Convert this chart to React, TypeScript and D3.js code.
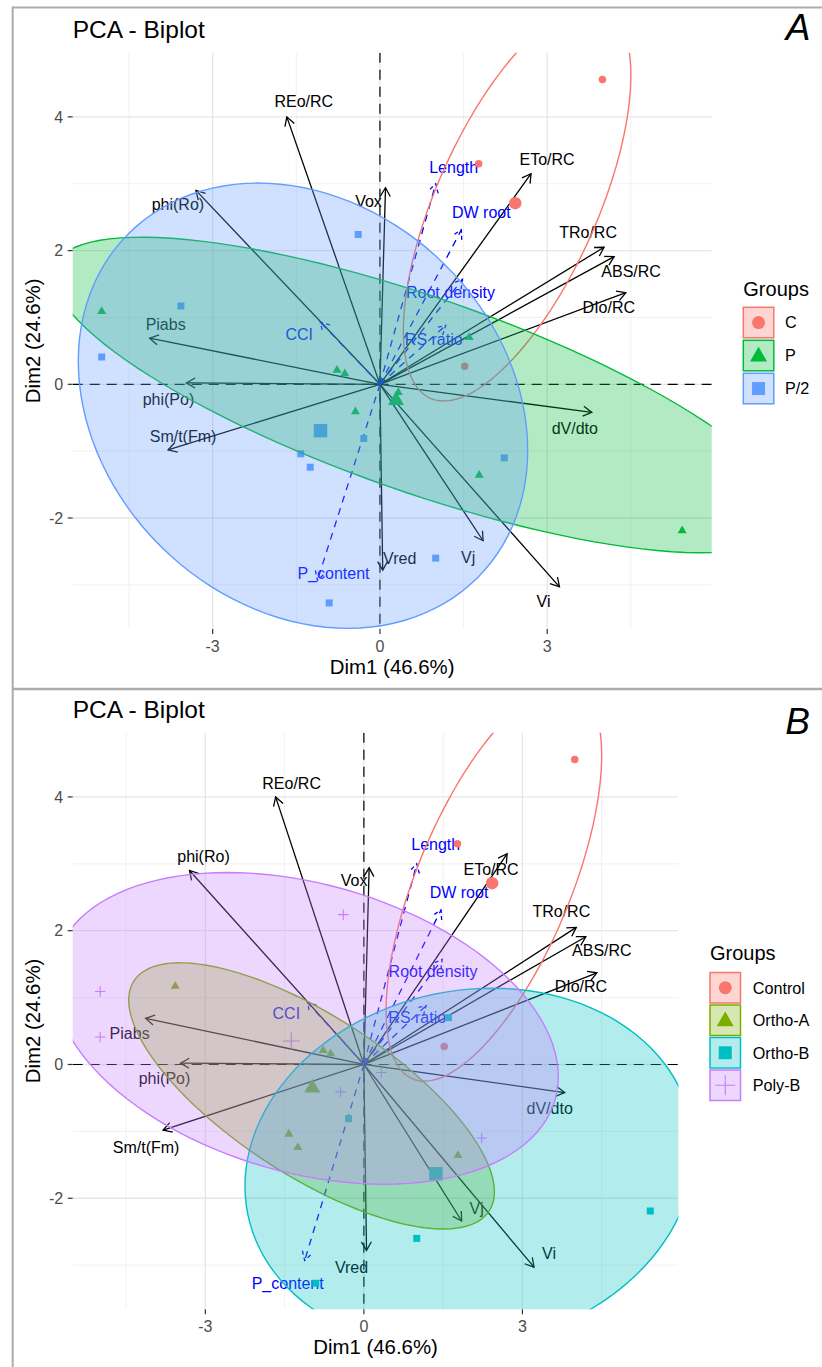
import React from "react";
import * as d3 from "d3";

// active variables (arrow tips, Dim1 / Dim2)
const varNames = ["REo/RC", "phi(Ro)", "Vox", "Piabs", "phi(Po)", "Sm/t(Fm)", "Vred", "Vj", "Vi", "dV/dto", "ETo/RC", "TRo/RC", "ABS/RC", "DIo/RC"];
const varDim1 = [-1.67, -3.3, 0.1, -4.13, -3.47, -3.8, 0.05, 1.85, 3.22, 3.8, 2.71, 4.02, 4.2, 4.41];
const varDim2 = [4.0, 2.9, 2.94, 0.69, 0.02, -0.98, -2.78, -2.34, -3.03, -0.42, 3.15, 2.05, 1.91, 1.37];

// supplementary variables (blue dashed)
const supNames = ["Length", "DW root", "Root density", "RS ratio", "CCI", "P_content"];
const supDim1 = [1.0, 1.46, 1.48, 1.18, -1.07, -1.12];
const supDim2 = [3.0, 2.31, 1.57, 0.88, 0.93, -2.93];

// individuals
const indDim1 = [3.99, 1.77, 1.52, -4.99, -0.77, -0.63, 0.33, -0.44, 1.78, 5.42, 1.6, -0.39, -3.57, -4.99, -0.29, -1.42, -1.25, -0.91, 2.23, 1.0];
const indDim2 = [4.56, 3.3, 0.27, 1.09, 0.21, 0.16, -0.12, -0.41, -1.36, -2.19, 0.7, 2.24, 1.17, 0.41, -0.81, -1.04, -1.24, -3.27, -1.1, -2.6];
const indGroupA = ["C", "C", "C", "P", "P", "P", "P", "P", "P", "P", "P", "P/2", "P/2", "P/2", "P/2", "P/2", "P/2", "P/2", "P/2", "P/2"];
const indGroupB = ["Control", "Control", "Control", "Poly-B", "Ortho-A", "Ortho-A", "Poly-B", "Poly-B", "Ortho-A", "Ortho-B", "Ortho-B", "Poly-B", "Ortho-A", "Poly-B", "Ortho-B", "Ortho-A", "Ortho-A", "Ortho-B", "Poly-B", "Ortho-B"];

const groupsA = ["C", "P", "P/2"];
const colorsA = ["#F8766D", "#00BA38", "#619CFF"];
const shapesA = ["circle", "triangle", "square"];
const groupsB = ["Control", "Ortho-A", "Ortho-B", "Poly-B"];
const colorsB = ["#F8766D", "#7CAE00", "#00BFC4", "#C77CFF"];
const shapesB = ["circle", "triangle", "square", "plus"];

// ellipses: centre, half extents, correlation
const ellCxA = [2.46, 0.745, -1.38];
const ellCyA = [2.71, -0.16, -0.32];
const ellHxA = [2.04, 6.61, 4.03];
const ellHyA = [2.96, 2.36, 3.33];
const ellRhoA = [0.645, -0.76, -0.2];
const ellCxB = [2.46, -0.99, 2.0, -1.1];
const ellCyB = [2.71, -0.47, -1.55, 0.54];
const ellHxB = [2.04, 3.46, 4.25, 4.78];
const ellHyB = [2.96, 1.99, 2.69, 2.33];
const ellRhoB = [0.645, -0.72, 0.1, -0.31];

const xBreaks = [-3, 0, 3];
const xMinor = [-4.5, -1.5, 1.5, 4.5];
const yBreaks = [-2, 0, 2, 4];
const yMinor = [-3, -1, 1, 3];

// label nudges (px) as placed by repel in each panel
const varOffA = [[17, -15], [-18, 14], [-17, 14], [16, -14], [-18, 16], [15, -13], [17, -12], [-15, 17], [-16, 15], [-17, 16], [16, -14], [-16, -15], [17, 15], [-17, 15]];
const supOffA = [[18, -16], [20, -17], [-12, 13], [-12, 14], [-21, 12], [16, -7]];
const varOffB = [[16, -14], [14, -14], [-15, 13], [-16, 15], [-16, 15], [-17, 17], [-15, 17], [15, -13], [15, -14], [-15, 16], [-16, 16], [-15, -16], [16, 14], [-16, 14]];
const supOffB = [[19, -19], [18, -18], [-9, 12], [-9, 12], [-21, 11], [-17, 23]];

const FONT = "'Liberation Sans', Arial, Helvetica, sans-serif";

const shapePath = (shape, s) => {
  const r = s / 2;
  if (shape === "circle") return `M${-r},0a${r},${r} 0 1,0 ${s},0a${r},${r} 0 1,0 ${-s},0Z`;
  if (shape === "triangle") {
    const h = s * 0.866;
    return `M0,${(-2 * h) / 3}L${r},${h / 3}L${-r},${h / 3}Z`;
  }
  if (shape === "square") return `M${-r},${-r}h${s}v${s}h${-s}Z`;
  return `M${-r},0H${r}M0,${-r}V${r}`;
};

const Marker = ({ shape, size, color, x, y }) => {
  const d = shapePath(shape, size);
  return shape === "plus" ? (
    <path d={d} transform={`translate(${x},${y})`} fill="none" stroke={color} strokeWidth={1.1} />
  ) : (
    <path d={d} transform={`translate(${x},${y})`} fill={color} />
  );
};

const arrowHead = (x1, y1, x2, y2, len = 10, ang = Math.PI / 6) => {
  const a = Math.atan2(y2 - y1, x2 - x1);
  const p1 = [x2 - len * Math.cos(a - ang), y2 - len * Math.sin(a - ang)];
  const p2 = [x2 - len * Math.cos(a + ang), y2 - len * Math.sin(a + ang)];
  return `M${p1[0]},${p1[1]}L${x2},${y2}L${p2[0]},${p2[1]}`;
};

const ellipsePoints = (cx, cy, hx, hy, rho) => {
  const d = Math.acos(rho);
  return d3.range(121).map((i) => {
    const a = (2 * Math.PI * i) / 120;
    return [cx + hx * Math.cos(a + d / 2), cy + hy * Math.cos(a - d / 2)];
  });
};

const Panel = ({ cfg }) => {
  const x = d3.scaleLinear().domain([-5.51, 5.95]).range([cfg.left, cfg.right]);
  const y = d3.scaleLinear().domain([-3.66, 4.96]).range([cfg.bottom, cfg.top]);
  const line = d3.line().x((d) => x(d[0])).y((d) => y(d[1]));
  const clipId = "clip" + cfg.letter;
  const sizesSmall = { circle: 7.5, triangle: 9, square: 7, plus: 10.5 };
  const sizesBig = { circle: 12.5, triangle: 16, square: 13.5, plus: 17 };
  const sizesKey = { circle: 13, triangle: 17, square: 13, plus: 20 };
  const x0 = x(0), y0 = y(0);

  const means = cfg.groups.map((g) => {
    const idx = d3.range(indDim1.length).filter((i) => cfg.indGroup[i] === g);
    return [d3.mean(idx, (i) => indDim1[i]), d3.mean(idx, (i) => indDim2[i])];
  });

  return (
    <g>
      <defs>
        <clipPath id={clipId}>
          <rect x={cfg.left} y={cfg.top} width={cfg.right - cfg.left} height={cfg.bottom - cfg.top} />
        </clipPath>
      </defs>
      <text x={72.7} y={cfg.titleBase} fontFamily={FONT} fontSize={24.5} fill="#000">PCA - Biplot</text>
      <text x={cfg.letterX} y={cfg.letterBase} fontFamily={FONT} fontSize={37} fontStyle="italic" textAnchor="middle" fill="#000">{cfg.letter}</text>

      <g clipPath={`url(#${clipId})`}>
        {xMinor.map((v) => (
          <line key={"xm" + v} x1={x(v)} x2={x(v)} y1={cfg.top} y2={cfg.bottom} stroke="#EDEDED" strokeWidth={0.8} />
        ))}
        {yMinor.map((v) => (
          <line key={"ym" + v} x1={cfg.left} x2={cfg.right} y1={y(v)} y2={y(v)} stroke="#EDEDED" strokeWidth={0.8} />
        ))}
        {xBreaks.map((v) => (
          <line key={"xb" + v} x1={x(v)} x2={x(v)} y1={cfg.top} y2={cfg.bottom} stroke="#E6E6E6" strokeWidth={1.3} />
        ))}
        {yBreaks.map((v) => (
          <line key={"yb" + v} x1={cfg.left} x2={cfg.right} y1={y(v)} y2={y(v)} stroke="#E6E6E6" strokeWidth={1.3} />
        ))}
        <line x1={x0} x2={x0} y1={cfg.top} y2={cfg.bottom} stroke="#000" strokeWidth={1.2} strokeDasharray="10,7" />
        <line x1={cfg.left} x2={cfg.right} y1={y0} y2={y0} stroke="#000" strokeWidth={1.2} strokeDasharray="10,7" />

        {varNames.map((n, i) => {
          const tx = x(varDim1[i]), ty = y(varDim2[i]);
          return (
            <g key={n}>
              <line x1={x0} y1={y0} x2={tx} y2={ty} stroke="#000" strokeWidth={1.3} />
              <path d={arrowHead(x0, y0, tx, ty)} fill="none" stroke="#000" strokeWidth={1.3} />
              <text x={tx + cfg.varOff[i][0]} y={ty + cfg.varOff[i][1]} dy="0.35em" textAnchor="middle" fontFamily={FONT} fontSize={16} fill="#000">{n}</text>
            </g>
          );
        })}
        {supNames.map((n, i) => {
          const tx = x(supDim1[i]), ty = y(supDim2[i]);
          return (
            <g key={n}>
              <line x1={x0} y1={y0} x2={tx} y2={ty} stroke="#0000FF" strokeWidth={1.3} strokeDasharray="7,6" />
              <path d={arrowHead(x0, y0, tx, ty)} fill="none" stroke="#0000FF" strokeWidth={1.3} strokeDasharray="4,3" />
              <text x={tx + cfg.supOff[i][0]} y={ty + cfg.supOff[i][1]} dy="0.35em" textAnchor="middle" fontFamily={FONT} fontSize={16} fill="#0000FF">{n}</text>
            </g>
          );
        })}

        {indDim1.map((v, i) => {
          const gi = cfg.groups.indexOf(cfg.indGroup[i]);
          return <Marker key={"p" + i} shape={cfg.shapes[gi]} size={sizesSmall[cfg.shapes[gi]]} color={cfg.colors[gi]} x={x(v)} y={y(indDim2[i])} />;
        })}
        {means.map((m, gi) => (
          <Marker key={"m" + gi} shape={cfg.shapes[gi]} size={sizesBig[cfg.shapes[gi]]} color={cfg.colors[gi]} x={x(m[0])} y={y(m[1])} />
        ))}

        {cfg.groups.map((g, gi) => (
          <path
            key={"e" + g}
            d={line(ellipsePoints(cfg.ellCx[gi], cfg.ellCy[gi], cfg.ellHx[gi], cfg.ellHy[gi], cfg.ellRho[gi])) + "Z"}
            fill={gi === 0 ? "none" : cfg.colors[gi]}
            fillOpacity={0.3}
            stroke={cfg.colors[gi]}
            strokeWidth={1.4}
          />
        ))}
      </g>

      {xBreaks.map((v) => (
        <g key={"xt" + v}>
          <line x1={x(v)} x2={x(v)} y1={cfg.bottom} y2={cfg.bottom + 5} stroke="#333" strokeWidth={1.2} />
          <text x={x(v)} y={cfg.bottom + 22.6} textAnchor="middle" fontFamily={FONT} fontSize={16} fill="#4D4D4D">{v}</text>
        </g>
      ))}
      {yBreaks.map((v) => (
        <g key={"yt" + v}>
          <line x1={cfg.left - 5} x2={cfg.left} y1={y(v)} y2={y(v)} stroke="#333" strokeWidth={1.2} />
          <text x={cfg.left - 9.5} y={y(v)} dy="0.36em" textAnchor="end" fontFamily={FONT} fontSize={16} fill="#4D4D4D">{v}</text>
        </g>
      ))}
      <text x={(cfg.left + cfg.right) / 2} y={cfg.xTitleBase} textAnchor="middle" fontFamily={FONT} fontSize={20.4} fill="#000">Dim1 (46.6%)</text>
      <text transform={`translate(40,${(cfg.top + cfg.bottom) / 2}) rotate(-90)`} textAnchor="middle" fontFamily={FONT} fontSize={20.4} fill="#000">Dim2 (24.6%)</text>

      <text x={cfg.legendX} y={cfg.legendTitleBase} fontFamily={FONT} fontSize={20} fill="#000">Groups</text>
      {cfg.groups.map((g, gi) => {
        const ky = cfg.keyTop + gi * cfg.keyStep;
        return (
          <g key={"k" + g}>
            <rect x={cfg.legendX} y={ky} width={30.5} height={30.5} fill={cfg.colors[gi]} fillOpacity={0.3} stroke={cfg.colors[gi]} strokeWidth={1.5} />
            <Marker shape={cfg.shapes[gi]} size={sizesKey[cfg.shapes[gi]]} color={cfg.colors[gi]} x={cfg.legendX + 15.25} y={ky + 15.25 + (cfg.shapes[gi] === "triangle" ? 1 : 0)} />
            <text x={cfg.legendLabelX} y={ky + 15.25} dy="0.36em" fontFamily={FONT} fontSize={16.2} fill="#000">{g}</text>
          </g>
        );
      })}
    </g>
  );
};

const cfgA = {
  letter: "A", left: 72.7, right: 711.7, top: 52.7, bottom: 629,
  titleBase: 37.7, letterX: 798, letterBase: 40, xTitleBase: 674.3,
  groups: groupsA, colors: colorsA, shapes: shapesA, indGroup: indGroupA,
  ellCx: ellCxA, ellCy: ellCyA, ellHx: ellHxA, ellHy: ellHyA, ellRho: ellRhoA,
  varOff: varOffA, supOff: supOffA,
  legendX: 743.3, legendTitleBase: 296, keyTop: 307.3, keyStep: 33, legendLabelX: 785,
};

const cfgB = {
  letter: "B", left: 72.7, right: 678.3, top: 732.7, bottom: 1309.3,
  titleBase: 717.7, letterX: 797.5, letterBase: 734, xTitleBase: 1354.3,
  groups: groupsB, colors: colorsB, shapes: shapesB, indGroup: indGroupB,
  ellCx: ellCxB, ellCy: ellCyB, ellHx: ellHxB, ellHy: ellHyB, ellRho: ellRhoB,
  varOff: varOffB, supOff: supOffB,
  legendX: 710, legendTitleBase: 959.5, keyTop: 972.5, keyStep: 32.5, legendLabelX: 752.7,
};

export default function App() {
  return (
    <div style={{ position: "absolute", left: 0, top: 0 }}>
      <svg width={822} height={1367} style={{ display: "block" }}>
        <rect width={822} height={1367} fill="#fff" />
        <line x1={12} x2={822} y1={7.5} y2={7.5} stroke="#ABABAB" strokeWidth={2} />
        <line x1={12} x2={822} y1={689} y2={689} stroke="#ABABAB" strokeWidth={2.5} />
        <line x1={12.7} x2={12.7} y1={6.5} y2={1367} stroke="#ABABAB" strokeWidth={2} />
        <Panel cfg={cfgA} />
        <Panel cfg={cfgB} />
      </svg>
    </div>
  );
}
